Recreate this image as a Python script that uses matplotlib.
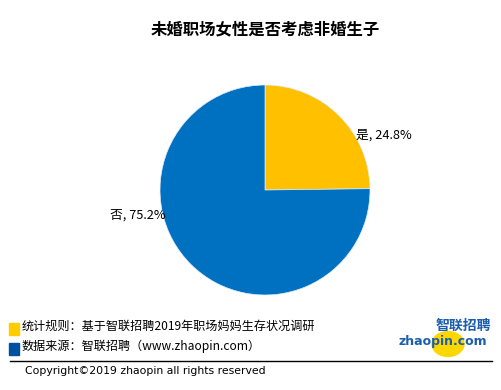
import matplotlib.pyplot as plt
from matplotlib.patches import Rectangle, Circle
from matplotlib.lines import Line2D

plt.rcParams['font.family'] = ['Noto Sans CJK SC', 'DejaVu Sans']

title = "未婚职场女性是否考虑非婚生子"
labels = ["是", "否"]
values = [24.8, 75.2]
colors = ["#FFC000", "#0070C0"]

fig = plt.figure(figsize=(5.02, 3.9), dpi=100)
W, H = 502, 390

fig.text(265 / W, 1 - 29 / H, title, ha='center', va='center', fontsize=11.8, fontweight='bold')

ax = fig.add_axes([160 / W, 1 - 295 / H, 210 / W, 210 / H])
ax.pie(values, colors=colors, startangle=90, counterclock=False, radius=1,
       wedgeprops=dict(linewidth=0.5, edgecolor='#DDEEFF'))
ax.set_xlim(-1, 1)
ax.set_ylim(-1, 1)
ax.set_aspect('auto')
ax.axis('off')

# data labels
label_pos = [(1.13, 0.52), (-1.21, -0.24)]
for lab, v, (x, y) in zip(labels, values, label_pos):
    ax.text(x, y, f"{lab}, {v}%", ha='center', va='center', fontsize=9.2, clip_on=False)

# footer legend
notes = ["统计规则：基于智联招聘2019年职场妈妈生存状况调研",
         "数据来源：智联招聘（www.zhaopin.com）"]
note_colors = ["#FFCC00", "#0050A0"]
for i, (txt, c) in enumerate(zip(notes, note_colors)):
    y = 326 + i * 20
    fig.patches.append(Rectangle((9 / W, 1 - (y + 9) / H), 10 / W, 12 / H,
                                 transform=fig.transFigure, color=c))
    fig.text(22 / W, 1 - y / H, txt, ha='left', va='center', fontsize=8.7)

fig.lines.append(Line2D([10 / W, 492 / W], [1 - 361 / H, 1 - 361 / H],
                        transform=fig.transFigure, color='black', linewidth=1))
fig.text(25 / W, 1 - 371 / H, "Copyright©2019 zhaopin all rights reserved",
         ha='left', va='center', fontsize=7.8, family=['DejaVu Sans'])

# logo
fig.patches.append(Circle((448 / W, 1 - 344 / H), 16 / W, transform=fig.transFigure,
                          color='#FFD700', zorder=1))
fig.text(463 / W, 1 - 326 / H, "智联招聘", ha='center', va='center', fontsize=10,
         fontweight='bold', color='#1A5EB0', zorder=3)
fig.text(443 / W, 1 - 342 / H, "zhaopin.com", ha='center', va='center', fontsize=9,
         fontweight='bold', color='#1A5EB0', family=['DejaVu Sans'], zorder=3)

fig.savefig("out.png", dpi=100)
